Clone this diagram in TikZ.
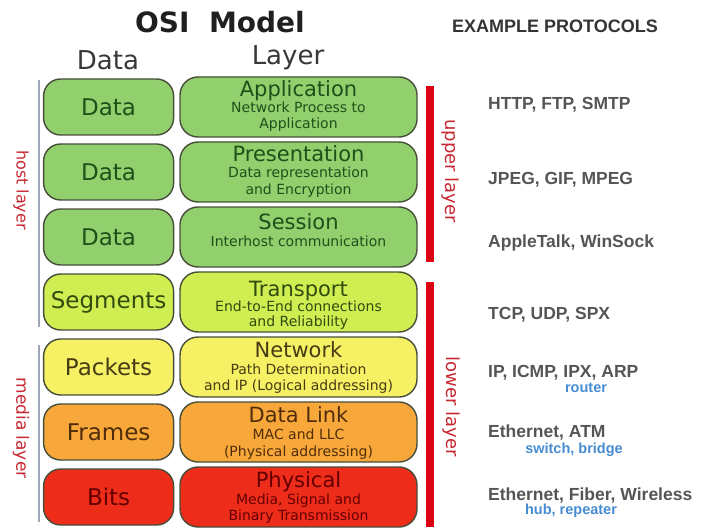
\documentclass[tikz,border=0pt]{standalone}
\usepackage{fontspec}
\setmainfont{DejaVu Sans}
\newfontfamily\protofont{Liberation Sans}
\usetikzlibrary{positioning}

\definecolor{boxline}{RGB}{70,78,58}
\definecolor{osigreen}{RGB}{146,208,110}
\definecolor{osilime}{RGB}{208,238,82}
\definecolor{osiyellow}{RGB}{246,240,100}
\definecolor{osiorange}{RGB}{248,168,58}
\definecolor{osired}{RGB}{238,44,26}
\definecolor{txtgreen}{RGB}{30,80,25}
\definecolor{txtlime}{RGB}{50,75,15}
\definecolor{txtyellow}{RGB}{70,60,20}
\definecolor{txtorange}{RGB}{80,45,10}
\definecolor{txtred}{RGB}{100,0,0}
\definecolor{protogray}{RGB}{85,85,85}
\definecolor{deviceblue}{RGB}{70,140,210}
\definecolor{labelred}{RGB}{200,40,50}
\definecolor{barred}{RGB}{220,0,20}
\definecolor{hostgray}{RGB}{160,165,185}

\tikzset{
    databox/.style={
        draw=boxline,
        line width=1.4pt,
        rounded corners=17pt,
        minimum width=130pt,
        minimum height=56pt,
        inner sep=0pt,
        font=\fontsize{23}{23}\selectfont,
    },
    layerbox/.style={
        draw=boxline,
        line width=1.4pt,
        rounded corners=18pt,
        minimum width=237pt,
        minimum height=60pt,
        inner sep=0pt,
    },
    layertitle/.style={anchor=base, inner sep=0pt, font=\fontsize{21}{21}\selectfont},
    layersub/.style={anchor=base, inner sep=0pt, font=\fontsize{14}{14}\selectfont},
    proto/.style={anchor=base west, inner sep=0pt, text=protogray, font=\protofont\bfseries\fontsize{17.5}{18}\selectfont},
    device/.style={anchor=base, inner sep=0pt, text=deviceblue, font=\protofont\bfseries\fontsize{14.5}{15}\selectfont},
    sidelabel/.style={rotate=-90, inner sep=0pt, text=labelred},
}

\begin{document}
\begin{tikzpicture}[x=1pt, y=-1pt]
    \useasboundingbox (0,0) rectangle (708,529);

    % headings
    \node[anchor=base, inner sep=0pt, text=black!88, font=\bfseries\fontsize{28}{28}\selectfont] (title) at (220,33) {OSI\ \ Model};
    \node[anchor=base, inner sep=0pt, text=black!78, font=\fontsize{26}{26}\selectfont] (datahead) at (108,70) {Data};
    \node[anchor=base, inner sep=0pt, text=black!78, font=\fontsize{26}{26}\selectfont] (layerhead) at (288,65) {Layer};
    \node[anchor=base, inner sep=0pt, text=black!80, font=\protofont\bfseries\fontsize{18}{18}\selectfont] (protohead) at (555,33) {EXAMPLE PROTOCOLS};

    % layers
    \node[layerbox, fill=osigreen] (app) at (298.5,107) {};
    \node[layertitle, text=txtgreen] (apptitle) at (298.5,97) {Application};
    \node[layersub, text=txtgreen] (appsub1) at (298.5,113) {Network Process to};
    \node[layersub, text=txtgreen] (appsub2) at (298.5,129) {Application};
    \node[databox, fill=osigreen, text=txtgreen, left=5pt of app] (appdata) {Data};

    \node[layerbox, fill=osigreen] (pres) at (298.5,172) {};
    \node[layertitle, text=txtgreen] (prestitle) at (298.5,162) {Presentation};
    \node[layersub, text=txtgreen] (pressub1) at (298.5,178) {Data representation};
    \node[layersub, text=txtgreen] (pressub2) at (298.5,194) {and Encryption};
    \node[databox, fill=osigreen, text=txtgreen, left=5pt of pres] (presdata) {Data};

    \node[layerbox, fill=osigreen] (sess) at (298.5,237) {};
    \node[layertitle, text=txtgreen] (sesstitle) at (298.5,229) {Session};
    \node[layersub, text=txtgreen] (sesssub1) at (298.5,246) {Interhost communication};
    \node[databox, fill=osigreen, text=txtgreen, left=5pt of sess] (sessdata) {Data};

    \node[layerbox, fill=osilime] (trans) at (298.5,302) {};
    \node[layertitle, text=txtlime] (transtitle) at (298.5,296) {Transport};
    \node[layersub, text=txtlime] (transsub1) at (298.5,311) {End-to-End connections};
    \node[layersub, text=txtlime] (transsub2) at (298.5,326) {and Reliability};
    \node[databox, fill=osilime, text=txtlime, left=5pt of trans] (transdata) {Segments};

    \node[layerbox, fill=osiyellow] (net) at (298.5,367) {};
    \node[layertitle, text=txtyellow] (nettitle) at (298.5,357) {Network};
    \node[layersub, text=txtyellow] (netsub1) at (298.5,374) {Path Determination};
    \node[layersub, text=txtyellow] (netsub2) at (298.5,390) {and IP (Logical addressing)};
    \node[databox, fill=osiyellow, text=txtyellow, left=5pt of net] (netdata) {Packets};

    \node[layerbox, fill=osiorange] (link) at (298.5,432) {};
    \node[layertitle, text=txtorange] (linktitle) at (298.5,422) {Data Link};
    \node[layersub, text=txtorange] (linksub1) at (298.5,439) {MAC and LLC};
    \node[layersub, text=txtorange] (linksub2) at (298.5,456) {(Physical addressing)};
    \node[databox, fill=osiorange, text=txtorange, left=5pt of link] (linkdata) {Frames};

    \node[layerbox, fill=osired] (phys) at (298.5,497) {};
    \node[layertitle, text=txtred] (phystitle) at (298.5,487) {Physical};
    \node[layersub, text=txtred] (physsub1) at (298.5,504) {Media, Signal and};
    \node[layersub, text=txtred] (physsub2) at (298.5,520) {Binary Transmission};
    \node[databox, fill=osired, text=txtred, left=5pt of phys] (physdata) {Bits};

    % side bars
    \draw[hostgray, line width=2pt] (39,80) -- (39,327);
    \draw[hostgray, line width=2pt] (39,345) -- (39,522);
    \fill[barred] (426,86) rectangle (434,262);
    \fill[barred] (426,282) rectangle (434,527);

    \node[sidelabel, font=\fontsize{16}{16}\selectfont] (hostlabel) at (21,190) {host layer};
    \node[sidelabel, font=\fontsize{17}{17}\selectfont] (medialabel) at (21,428) {media layer};
    \node[sidelabel, font=\fontsize{18}{18}\selectfont] (upperlabel) at (450,171) {upper layer};
    \node[sidelabel, font=\fontsize{18}{18}\selectfont] (lowerlabel) at (451,407) {lower layer};

    % protocols
    \node[proto] (appproto) at (488,110) {HTTP, FTP, SMTP};
    \node[proto] (presproto) at (488,185) {JPEG, GIF, MPEG};
    \node[proto] (sessproto) at (488,247) {AppleTalk, WinSock};
    \node[proto] (transproto) at (488,319) {TCP, UDP, SPX};
    \node[proto] (netproto) at (488,377) {IP, ICMP, IPX, ARP};
    \node[device] (netdev) at (586,392) {router};
    \node[proto] (linkproto) at (488,437) {Ethernet, ATM};
    \node[device] (linkdev) at (574,453) {switch, bridge};
    \node[proto] (physproto) at (488,500) {Ethernet, Fiber, Wireless};
    \node[device] (physdev) at (571,514) {hub, repeater};
\end{tikzpicture}
\end{document}
